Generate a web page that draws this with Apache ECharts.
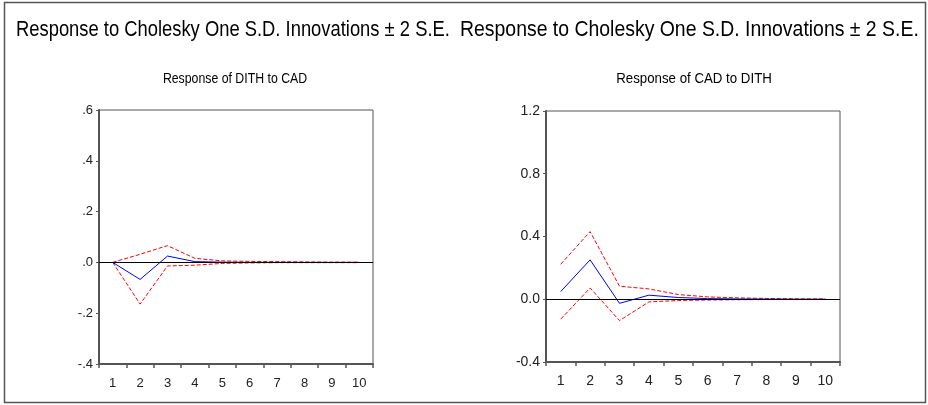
<!DOCTYPE html>
<html>
<head>
<meta charset="utf-8">
<script src="https://cdn.jsdelivr.net/npm/echarts@6/dist/echarts.min.js"></script>
<style>
  html, body { margin: 0; padding: 0; background: #fff; }
  #chart { width: 928px; height: 405px; }
</style>
</head>
<body>
<div id="chart"></div>
<script>
// Impulse-response periods
const periods = ['1', '2', '3', '4', '5', '6', '7', '8', '9', '10'];

// Response of DITH to CAD
const dithToCad = [0.000, -0.067, 0.025, 0.003, 0.001, 0.000, 0.000, 0.000, 0.000, 0.000];
const dithToCadUpper = [0.000, 0.032, 0.066, 0.016, 0.006, 0.004, 0.003, 0.002, 0.001, 0.001];
const dithToCadLower = [0.000, -0.164, -0.014, -0.011, -0.004, -0.002, -0.001, -0.001, -0.001, -0.001];

// Response of CAD to DITH
const cadToDith = [0.049, 0.251, -0.026, 0.026, 0.011, 0.004, 0.002, 0.001, 0.000, 0.000];
const cadToDithUpper = [0.223, 0.431, 0.083, 0.066, 0.030, 0.015, 0.009, 0.005, 0.003, 0.002];
const cadToDithLower = [-0.127, 0.072, -0.136, -0.017, -0.008, -0.005, -0.003, -0.002, -0.001, -0.001];

// Y-axis tick labels
const leftTickLabels = { '0.6': '.6', '0.4': '.4', '0.2': '.2', '0': '.0', '-0.2': '-.2', '-0.4': '-.4' };
const rightTickLabels = { '1.2': '1.2', '0.8': '0.8', '0.4': '0.4', '0': '0.0', '-0.4': '-0.4' };

// Heading texts
const mainTitle = 'Response to Cholesky One S.D. Innovations ± 2 S.E.';
const leftSubtitle = 'Response of DITH to CAD';
const rightSubtitle = 'Response of CAD to DITH';

const FONT = '"Liberation Sans", Arial, sans-serif';

function fmt(map) {
  return function (v) {
    const k = String(Math.round(v * 10) / 10);
    return map[k] !== undefined ? map[k] : '';
  };
}

function xAxisFor(idx, size, margin) {
  return {
    type: 'category', gridIndex: idx, data: periods, boundaryGap: true,
    axisLine: { show: true, onZero: false, lineStyle: { color: '#555', width: 2 } },
    axisTick: { show: true, length: 4, lineStyle: { color: '#555', width: 1.5 } },
    axisLabel: { color: '#222', fontFamily: FONT, fontSize: size, margin: margin },
    splitLine: { show: false }
  };
}

function yAxisFor(idx, min, max, interval, map, size) {
  return {
    type: 'value', gridIndex: idx, min: min, max: max, interval: interval,
    axisLine: { show: true, onZero: false, lineStyle: { color: '#555', width: 2 } },
    axisTick: { show: true, length: 3, lineStyle: { color: '#555', width: 1 } },
    axisLabel: { color: '#222', fontFamily: FONT, fontSize: size, margin: 6, formatter: fmt(map) },
    splitLine: { show: false }
  };
}

function band(name, idx, data, color, dashed, withZero) {
  const s = {
    name: name, type: 'line', xAxisIndex: idx, yAxisIndex: idx, data: data,
    symbol: 'none', silent: true,
    lineStyle: { color: color, width: 1, type: dashed ? [4, 2] : 'solid' },
    z: dashed ? 3 : 4
  };
  if (withZero) {
    s.markLine = {
      silent: true, symbol: 'none', label: { show: false },
      lineStyle: { color: '#000', width: 1, type: 'solid' },
      data: [{ yAxis: 0 }]
    };
  }
  return s;
}

// Condensed heading text (narrow face emulated by horizontal scaling)
function narrowText(text, x, y, size, sx, align) {
  return {
    type: 'text', x: x, y: y, scaleX: sx, silent: true,
    style: {
      text: text, fill: '#000', font: 'normal ' + size + 'px ' + FONT,
      align: align, verticalAlign: 'top'
    }
  };
}

const chart = echarts.init(document.getElementById('chart'), null, { renderer: 'canvas' });
chart.setOption({
  animation: false,
  backgroundColor: '#fff',
  graphic: [
    {
      type: 'rect', shape: { x: 4.5, y: 2.5, width: 921, height: 400 },
      style: { fill: 'none', stroke: '#555', lineWidth: 1.5 }, silent: true
    },
    narrowText(mainTitle, 16, 19, 22, 0.835, 'left'),
    narrowText(mainTitle, 460, 19, 22, 0.883, 'left'),
    narrowText(leftSubtitle, 235, 71, 15, 0.82, 'center'),
    narrowText(rightSubtitle, 694, 71, 15, 0.885, 'center')
  ],
  grid: [
    { left: 99, top: 110, width: 274, height: 254, show: true, borderColor: '#555', borderWidth: 1, backgroundColor: 'transparent' },
    { left: 546, top: 111, width: 294, height: 251, show: true, borderColor: '#555', borderWidth: 1, backgroundColor: 'transparent' }
  ],
  xAxis: [xAxisFor(0, 13, 13), xAxisFor(1, 14, 12)],
  yAxis: [
    yAxisFor(0, -0.4, 0.6, 0.2, leftTickLabels, 13),
    yAxisFor(1, -0.4, 1.2, 0.4, rightTickLabels, 14)
  ],
  series: [
    band('DITH to CAD', 0, dithToCad, '#0000ff', false, true),
    band('DITH to CAD +2SE', 0, dithToCadUpper, '#ff0000', true, false),
    band('DITH to CAD -2SE', 0, dithToCadLower, '#ff0000', true, false),
    band('CAD to DITH', 1, cadToDith, '#0000ff', false, true),
    band('CAD to DITH +2SE', 1, cadToDithUpper, '#ff0000', true, false),
    band('CAD to DITH -2SE', 1, cadToDithLower, '#ff0000', true, false)
  ]
});
</script>
</body>
</html>
